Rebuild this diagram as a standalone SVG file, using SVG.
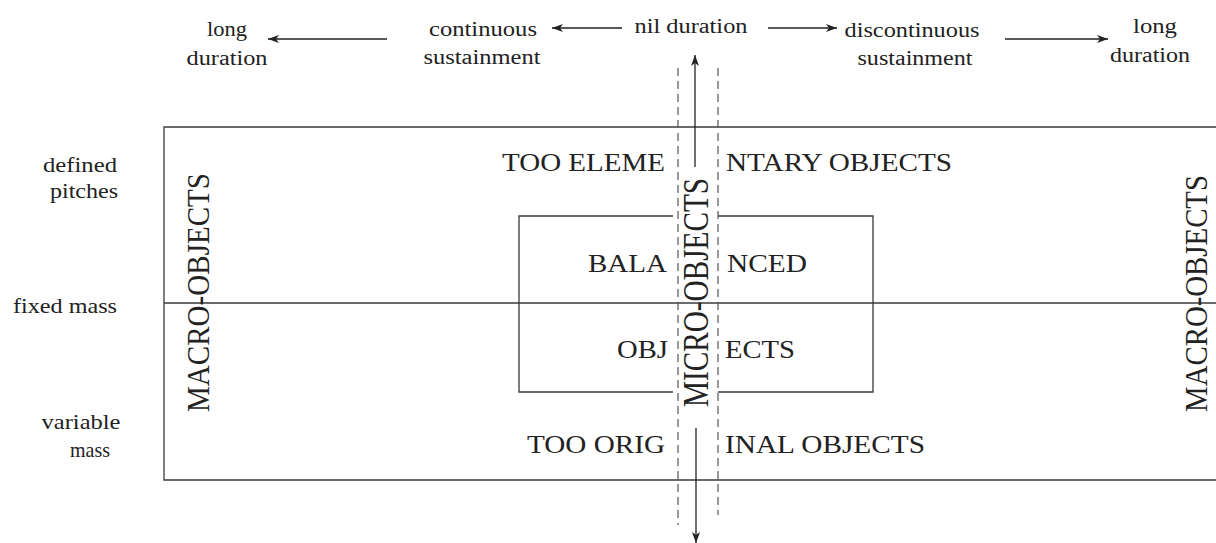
<svg xmlns="http://www.w3.org/2000/svg" width="1216" height="543" viewBox="0 0 1216 543">
  <style>
    .ln { stroke: #3a3a3a; stroke-width: 1.3; fill: none; }
    .ds { stroke: #555; stroke-width: 1.2; stroke-dasharray: 8 5; fill: none; }
    .ar { stroke: #222; stroke-width: 1.3; fill: none; marker-end: url(#ah); }
  </style>
  <defs>
    <marker id="ah" markerWidth="12" markerHeight="10" refX="11" refY="4" orient="auto" markerUnits="userSpaceOnUse">
      <path d="M0,0 L11,4 L0,8 L3,4 z" fill="#222"/>
    </marker>
  </defs>
  <rect width="1216" height="543" fill="#fff"/>

  <g id="grid">
    <path class="ln" d="M1216,127 H164 V480 H1216"/>
    <path class="ln" d="M164,303 H1216"/>
  </g>
  <g id="inner-box">
    <path class="ln" d="M673,216 H519 V392 H673"/>
    <path class="ln" d="M718,216 H873 V392 H718"/>
  </g>
  <g id="micro-band">
    <line class="ds" x1="678" y1="68" x2="678" y2="525"/>
    <line class="ds" x1="718" y1="68" x2="718" y2="515"/>
  </g>

  <g id="connectors">
    <line class="ar" x1="387" y1="39" x2="268" y2="39"/>
    <line class="ar" x1="622" y1="28" x2="552" y2="28"/>
    <line class="ar" x1="768" y1="28" x2="837" y2="28"/>
    <line class="ar" x1="1005" y1="39" x2="1108" y2="39"/>
    <line class="ar" x1="695" y1="167" x2="695" y2="55"/>
    <line class="ar" x1="696" y1="428" x2="696" y2="543"/>
  </g>

  <g id="labels-top" font-family="Liberation Serif" font-size="20" fill="#222" text-anchor="middle">
    <g id="long-duration-left">
      <text x="227" y="36" textLength="40" lengthAdjust="spacingAndGlyphs">long</text>
      <text x="227" y="65" textLength="81" lengthAdjust="spacingAndGlyphs">duration</text>
    </g>
    <g id="continuous-sustainment">
      <text x="483" y="36" textLength="108" lengthAdjust="spacingAndGlyphs">continuous</text>
      <text x="482" y="64" textLength="117" lengthAdjust="spacingAndGlyphs">sustainment</text>
    </g>
    <g id="nil-duration">
      <text x="691" y="33" textLength="113" lengthAdjust="spacingAndGlyphs">nil duration</text>
    </g>
    <g id="discontinuous-sustainment">
      <text x="912" y="37" textLength="135" lengthAdjust="spacingAndGlyphs">discontinuous</text>
      <text x="915" y="65" textLength="115" lengthAdjust="spacingAndGlyphs">sustainment</text>
    </g>
    <g id="long-duration-right">
      <text x="1155" y="33" textLength="44" lengthAdjust="spacingAndGlyphs">long</text>
      <text x="1150" y="62" textLength="80" lengthAdjust="spacingAndGlyphs">duration</text>
    </g>
  </g>

  <g id="labels-left" font-family="Liberation Serif" font-size="21" fill="#222" text-anchor="middle">
    <g id="defined-pitches">
      <text x="80" y="172" textLength="74" lengthAdjust="spacingAndGlyphs">defined</text>
      <text x="84" y="198" textLength="68" lengthAdjust="spacingAndGlyphs">pitches</text>
    </g>
    <g id="fixed-mass">
      <text x="65" y="313" textLength="104" lengthAdjust="spacingAndGlyphs">fixed mass</text>
    </g>
    <g id="variable-mass">
      <text x="81" y="429" textLength="79" lengthAdjust="spacingAndGlyphs">variable</text>
      <text x="90" y="457" textLength="40" lengthAdjust="spacingAndGlyphs">mass</text>
    </g>
  </g>

  <g id="vertical-labels" font-family="Liberation Serif" font-size="29" fill="#222" text-anchor="middle">
    <g id="macro-objects-left">
      <text transform="translate(209,292.5) scale(1.12,1) rotate(-90)" x="0" y="0" textLength="239" lengthAdjust="spacingAndGlyphs">MACRO-OBJECTS</text>
    </g>
    <g id="macro-objects-right">
      <text transform="translate(1207,293.5) scale(1.12,1) rotate(-90)" x="0" y="0" textLength="237" lengthAdjust="spacingAndGlyphs">MACRO-OBJECTS</text>
    </g>
    <g id="micro-objects">
      <text transform="translate(708,292.5) scale(1.2,1) rotate(-90)" x="0" y="0" textLength="229" lengthAdjust="spacingAndGlyphs">MICRO-OBJECTS</text>
    </g>
  </g>

  <g id="labels-inner" font-family="Liberation Serif" font-size="26" fill="#222">
    <g id="too-elementary">
      <text x="665" y="171" text-anchor="end" textLength="163" lengthAdjust="spacingAndGlyphs">TOO ELEME</text>
      <text x="726" y="171" textLength="226" lengthAdjust="spacingAndGlyphs">NTARY OBJECTS</text>
    </g>
    <g id="balanced-objects">
      <text x="667" y="272" text-anchor="end" textLength="79" lengthAdjust="spacingAndGlyphs">BALA</text>
      <text x="727" y="272" textLength="80" lengthAdjust="spacingAndGlyphs">NCED</text>
      <text x="668" y="358" text-anchor="end" textLength="51" lengthAdjust="spacingAndGlyphs">OBJ</text>
      <text x="725" y="358" textLength="70" lengthAdjust="spacingAndGlyphs">ECTS</text>
    </g>
    <g id="too-original">
      <text x="665" y="453" text-anchor="end" textLength="138" lengthAdjust="spacingAndGlyphs">TOO ORIG</text>
      <text x="725" y="453" textLength="200" lengthAdjust="spacingAndGlyphs">INAL OBJECTS</text>
    </g>
  </g>
</svg>
